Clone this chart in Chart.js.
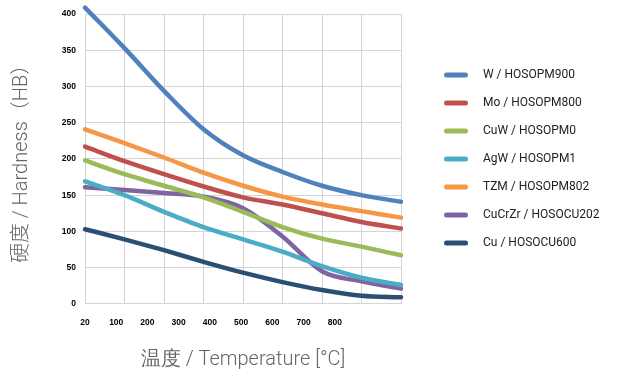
<!DOCTYPE html>
<html>
<head>
<meta charset="utf-8">
<script src="https://cdn.jsdelivr.net/npm/chart.js@4"></script>
<style>
  html, body { margin: 0; padding: 0; background: #fff; }
  #wrap { width: 618px; height: 376px; }
</style>
</head>
<body>
<div id="wrap"><canvas id="hardnessChart"></canvas></div>
<script>
// temperature tick labels (bottom axis)
const tempLabels = ['20', '100', '200', '300', '400', '500', '600', '700', '800'];

// values read at each vertical grid line (0..8)
const gridSteps = [0, 1, 2, 3, 4, 5, 6, 7, 8];
const wValues      = [409, 353, 294, 241, 205, 182, 163, 150, 141];
const moValues     = [217, 197, 179, 162, 147, 137, 125, 113, 104];
const cuwValues    = [198, 179, 163, 147, 127, 106, 90, 79, 67];
const agwValues    = [169, 150, 127, 106, 89, 72, 52, 36, 26];
const tzmValues    = [241, 222, 202, 181, 163, 148, 137, 128, 119];
const cucrzrValues = [161, 157, 153, 148, 132, 93, 45, 31, 21];
const cuValues     = [103, 89, 74, 58, 43, 30, 19, 11, 9];

const seriesNames = ['W / HOSOPM900', 'Mo / HOSOPM800', 'CuW / HOSOPM0', 'AgW / HOSOPM1',
                     'TZM / HOSOPM802', 'CuCrZr / HOSOCU202', 'Cu / HOSOCU600'];
const seriesColors = ['#4F81BD', '#C0504D', '#9BBB59', '#4BACC6', '#F79646', '#8064A2', '#2B4F72'];
const seriesValues = [wValues, moValues, cuwValues, agwValues, tzmValues, cucrzrValues, cuValues];

// small legend swatch: short thick line with an empty gap before the text
function makeSwatch(color) {
    const c = document.createElement('canvas');
    c.width = 39;
    c.height = 8;
    const g = c.getContext('2d');
    g.strokeStyle = color;
    g.lineWidth = 5;
    g.lineCap = 'round';
    g.beginPath();
    g.moveTo(8.5, 4);
    g.lineTo(27.5, 4);
    g.stroke();
    return c;
}

document.addEventListener("DOMContentLoaded", function() {
    const datasets = seriesNames.map(function(name, i) {
        return {
            label: name,
            data: gridSteps.map((x, j) => ({ x: x, y: seriesValues[i][j] })),
            borderColor: seriesColors[i],
            backgroundColor: seriesColors[i],
            borderWidth: 4.5,
            borderCapStyle: 'round',
            pointRadius: 0,
            pointStyle: makeSwatch(seriesColors[i]),
            cubicInterpolationMode: 'monotone',
            clip: false,
            xAxisID: 'x'
        };
    });

    // legend keeps a fixed width and sits where the original had it
    const legendBox = {
        id: 'legendBox',
        beforeLayout(chart) {
            const lg = chart.legend;
            if (lg && !lg._fixedWidth) {
                const origFit = lg.fit;
                lg.fit = function() {
                    origFit.call(this);
                    this.width = 217;
                };
                lg._fixedWidth = true;
            }
        },
        afterLayout(chart) {
            const lg = chart.legend;
            if (lg) {
                lg.left += 21;
                lg.right += 21;
                lg.top -= 33;
                lg.bottom -= 33;
            }
        }
    };

    new Chart(document.getElementById('hardnessChart'), {
        type: 'line',
        data: { datasets: datasets },
        plugins: [legendBox],
        options: {
            responsive: true,
            maintainAspectRatio: false,
            animation: false,
            layout: { padding: { top: 12, right: 0, left: 0, bottom: 4 } },
            plugins: {
                tooltip: { enabled: false },
                legend: {
                    position: 'right',
                    labels: {
                        usePointStyle: true,
                        pointStyleWidth: 39,
                        padding: 16,
                        color: '#222',
                        font: { family: 'Roboto', size: 12 }
                    }
                }
            },
            scales: {
                x: {
                    type: 'linear',
                    position: 'bottom',
                    min: 0,
                    max: 8,
                    weight: 0,
                    grid: { color: '#d4d4d4', drawTicks: false },
                    border: { color: '#d4d4d4' },
                    ticks: { display: false, stepSize: 1 }
                },
                xl: {
                    type: 'linear',
                    position: 'bottom',
                    min: 0,
                    max: 10.12,
                    weight: 1,
                    grid: { display: false },
                    border: { display: false },
                    afterBuildTicks: function(axis) {
                        axis.ticks = tempLabels.map((t, i) => ({ value: i }));
                    },
                    ticks: {
                        autoSkip: false,
                        maxRotation: 0,
                        padding: 6,
                        color: '#000',
                        font: { family: 'Liberation Sans', size: 8.5, weight: 'bold' },
                        callback: function(value, index) { return tempLabels[index]; }
                    },
                    title: {
                        display: true,
                        text: '温度 / Temperature [°C]',
                        color: '#666',
                        font: { family: 'Roboto', size: 20, weight: '300' },
                        padding: { top: 14, bottom: 0 }
                    }
                },
                y: {
                    min: 0,
                    max: 400,
                    grid: { color: '#d4d4d4', drawTicks: false },
                    border: { color: '#d4d4d4' },
                    ticks: {
                        stepSize: 50,
                        padding: 9,
                        color: '#000',
                        font: { family: 'Liberation Sans', size: 8.5, weight: 'bold' }
                    },
                    title: {
                        display: true,
                        text: '硬度 / Hardness（HB）',
                        color: '#666',
                        font: { family: 'Roboto, "Noto Sans CJK SC"', size: 20, weight: '300' },
                        padding: { top: 10, bottom: 0 }
                    },
                    afterFit: function(axis) { axis.width = 85; }
                }
            }
        }
    });
});
</script>
</body>
</html>
